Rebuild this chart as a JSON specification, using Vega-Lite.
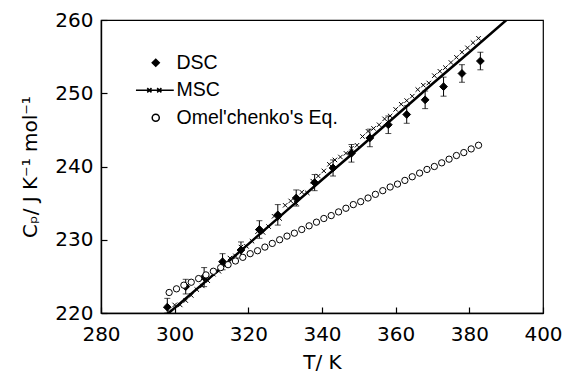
{
  "$schema": "https://vega.github.io/schema/vega-lite/v6.json",
  "width": 442,
  "height": 293,
  "autosize": "none",
  "padding": {"left": 101, "top": 20, "right": 22, "bottom": 59},
  "background": "white",
  "config": {
    "view": {"stroke": "black", "strokeWidth": 1.2},
    "legend": {
      "title": null,
      "orient": "none",
      "legendX": 45,
      "legendY": 33,
      "symbolSize": 50,
      "symbolStrokeColor": "black",
      "labelFont": "Liberation Sans",
      "labelFontSize": 19.5,
      "labelColor": "black",
      "labelLimit": 300,
      "labelOffset": 11,
      "rowPadding": 6.5
    },
    "axis": {
      "grid": false,
      "ticks": true,
      "zindex": 1,
      "domainColor": "black",
      "domainWidth": 1.4,
      "tickColor": "black",
      "tickWidth": 1.2,
      "labelFont": "DejaVu Sans",
      "labelFontSize": 20,
      "labelColor": "black",
      "titleFont": "DejaVu Sans",
      "titleFontSize": 20,
      "titleFontWeight": "normal",
      "titleColor": "black",
      "labelFlush": false,
      "labelOverlap": false
    }
  },
  "datasets": {
    "dsc": [
      {"T": 298, "C": 220.8, "lo": 220.0, "hi": 222.0, "series": "DSC"},
      {"T": 303, "C": 223.6, "lo": 222.6, "hi": 224.6, "series": "DSC"},
      {"T": 308, "C": 224.9, "lo": 223.6, "hi": 226.2, "series": "DSC"},
      {"T": 313, "C": 227.0, "lo": 225.9, "hi": 228.1, "series": "DSC"},
      {"T": 318, "C": 228.6, "lo": 227.5, "hi": 229.7, "series": "DSC"},
      {"T": 323, "C": 231.4, "lo": 230.2, "hi": 232.6, "series": "DSC"},
      {"T": 328, "C": 233.4, "lo": 232.0, "hi": 234.8, "series": "DSC"},
      {"T": 333, "C": 235.7, "lo": 234.6, "hi": 236.8, "series": "DSC"},
      {"T": 338, "C": 237.8, "lo": 236.7, "hi": 238.9, "series": "DSC"},
      {"T": 343, "C": 239.8, "lo": 238.7, "hi": 240.9, "series": "DSC"},
      {"T": 348, "C": 241.8, "lo": 240.6, "hi": 243.0, "series": "DSC"},
      {"T": 353, "C": 243.9, "lo": 242.7, "hi": 245.1, "series": "DSC"},
      {"T": 358, "C": 245.7, "lo": 244.5, "hi": 246.9, "series": "DSC"},
      {"T": 363, "C": 247.1, "lo": 245.9, "hi": 248.3, "series": "DSC"},
      {"T": 368, "C": 249.1, "lo": 247.9, "hi": 250.3, "series": "DSC"},
      {"T": 373, "C": 250.9, "lo": 249.6, "hi": 252.2, "series": "DSC"},
      {"T": 378, "C": 252.7, "lo": 251.5, "hi": 253.9, "series": "DSC"},
      {"T": 383, "C": 254.4, "lo": 253.2, "hi": 255.6, "series": "DSC"}
    ],
    "msc": [
      {"T": 298.5, "C": 220.2}, {"T": 300, "C": 221.1}, {"T": 301.5, "C": 221.1},
      {"T": 303, "C": 221.7}, {"T": 304.5, "C": 222.4}, {"T": 306, "C": 223.2},
      {"T": 307.5, "C": 223.7}, {"T": 309, "C": 224.4}, {"T": 310.5, "C": 225.3},
      {"T": 312, "C": 225.7}, {"T": 313.5, "C": 226.5}, {"T": 315, "C": 227.5},
      {"T": 316.5, "C": 227.8}, {"T": 318, "C": 229.0}, {"T": 319.5, "C": 229.1},
      {"T": 321, "C": 229.8}, {"T": 322.5, "C": 231.1}, {"T": 324, "C": 231.0},
      {"T": 325.5, "C": 231.8}, {"T": 327, "C": 233.2}, {"T": 328.5, "C": 232.9},
      {"T": 330, "C": 234.7}, {"T": 331.5, "C": 235.3}, {"T": 333, "C": 235.0},
      {"T": 334.5, "C": 236.5}, {"T": 336, "C": 236.4}, {"T": 337.5, "C": 238.0},
      {"T": 339, "C": 238.7}, {"T": 340.5, "C": 239.4}, {"T": 342, "C": 240.3},
      {"T": 343.5, "C": 240.9}, {"T": 345, "C": 241.3}, {"T": 346.5, "C": 241.8},
      {"T": 348, "C": 242.5}, {"T": 349.5, "C": 242.9}, {"T": 351, "C": 244.1},
      {"T": 352.5, "C": 244.8}, {"T": 354, "C": 245.2}, {"T": 355.5, "C": 245.7},
      {"T": 357, "C": 246.5}, {"T": 358.5, "C": 246.9}, {"T": 360, "C": 247.8},
      {"T": 361.5, "C": 248.5}, {"T": 363, "C": 249.0}, {"T": 364.5, "C": 249.6},
      {"T": 366, "C": 250.5}, {"T": 367.5, "C": 251.1}, {"T": 369, "C": 251.4},
      {"T": 370.5, "C": 252.4}, {"T": 372, "C": 253.0}, {"T": 373.5, "C": 253.5},
      {"T": 375, "C": 254.2}, {"T": 376.5, "C": 254.9}, {"T": 378, "C": 255.6},
      {"T": 379.5, "C": 256.2}, {"T": 381, "C": 256.9}, {"T": 382.5, "C": 257.5}
    ],
    "mscfit": [
      {"T": 297, "C": 219.4}, {"T": 310, "C": 225.0}, {"T": 320, "C": 229.4},
      {"T": 330, "C": 233.8}, {"T": 340, "C": 238.2}, {"T": 350, "C": 242.5},
      {"T": 360, "C": 246.9}, {"T": 370, "C": 251.3}, {"T": 380, "C": 255.6},
      {"T": 391, "C": 260.4}
    ],
    "omel": [
      {"T": 298.5, "C": 222.8, "series": "Omel'chenko's Eq."},
      {"T": 300.5, "C": 223.3, "series": "Omel'chenko's Eq."},
      {"T": 302.5, "C": 223.8, "series": "Omel'chenko's Eq."},
      {"T": 304.5, "C": 224.2, "series": "Omel'chenko's Eq."},
      {"T": 306.5, "C": 224.7, "series": "Omel'chenko's Eq."},
      {"T": 308.5, "C": 225.2, "series": "Omel'chenko's Eq."},
      {"T": 310.5, "C": 225.7, "series": "Omel'chenko's Eq."},
      {"T": 312.5, "C": 226.2, "series": "Omel'chenko's Eq."},
      {"T": 314.5, "C": 226.6, "series": "Omel'chenko's Eq."},
      {"T": 316.5, "C": 227.1, "series": "Omel'chenko's Eq."},
      {"T": 318.5, "C": 227.6, "series": "Omel'chenko's Eq."},
      {"T": 320.5, "C": 228.1, "series": "Omel'chenko's Eq."},
      {"T": 322.5, "C": 228.5, "series": "Omel'chenko's Eq."},
      {"T": 324.5, "C": 229.0, "series": "Omel'chenko's Eq."},
      {"T": 326.5, "C": 229.5, "series": "Omel'chenko's Eq."},
      {"T": 328.5, "C": 230.0, "series": "Omel'chenko's Eq."},
      {"T": 330.5, "C": 230.5, "series": "Omel'chenko's Eq."},
      {"T": 332.5, "C": 230.9, "series": "Omel'chenko's Eq."},
      {"T": 334.5, "C": 231.4, "series": "Omel'chenko's Eq."},
      {"T": 336.5, "C": 231.9, "series": "Omel'chenko's Eq."},
      {"T": 338.5, "C": 232.4, "series": "Omel'chenko's Eq."},
      {"T": 340.5, "C": 232.9, "series": "Omel'chenko's Eq."},
      {"T": 342.5, "C": 233.3, "series": "Omel'chenko's Eq."},
      {"T": 344.5, "C": 233.8, "series": "Omel'chenko's Eq."},
      {"T": 346.5, "C": 234.3, "series": "Omel'chenko's Eq."},
      {"T": 348.5, "C": 234.8, "series": "Omel'chenko's Eq."},
      {"T": 350.5, "C": 235.2, "series": "Omel'chenko's Eq."},
      {"T": 352.5, "C": 235.7, "series": "Omel'chenko's Eq."},
      {"T": 354.5, "C": 236.2, "series": "Omel'chenko's Eq."},
      {"T": 356.5, "C": 236.7, "series": "Omel'chenko's Eq."},
      {"T": 358.5, "C": 237.2, "series": "Omel'chenko's Eq."},
      {"T": 360.5, "C": 237.6, "series": "Omel'chenko's Eq."},
      {"T": 362.5, "C": 238.1, "series": "Omel'chenko's Eq."},
      {"T": 364.5, "C": 238.6, "series": "Omel'chenko's Eq."},
      {"T": 366.5, "C": 239.1, "series": "Omel'chenko's Eq."},
      {"T": 368.5, "C": 239.6, "series": "Omel'chenko's Eq."},
      {"T": 370.5, "C": 240.0, "series": "Omel'chenko's Eq."},
      {"T": 372.5, "C": 240.5, "series": "Omel'chenko's Eq."},
      {"T": 374.5, "C": 241.0, "series": "Omel'chenko's Eq."},
      {"T": 376.5, "C": 241.5, "series": "Omel'chenko's Eq."},
      {"T": 378.5, "C": 241.9, "series": "Omel'chenko's Eq."},
      {"T": 380.5, "C": 242.4, "series": "Omel'chenko's Eq."},
      {"T": 382.5, "C": 242.9, "series": "Omel'chenko's Eq."}
    ]
  },
  "layer": [
    {
      "data": {"name": "dsc"},
      "mark": {"type": "errorbar", "ticks": {"size": 6}, "color": "black"},
      "encoding": {
        "x": {
          "field": "T", "type": "quantitative",
          "scale": {"domain": [280, 400], "nice": false, "zero": false},
          "axis": {
            "title": "T/  K",
            "values": [280, 290, 300, 310, 320, 330, 340, 350, 360, 370, 380, 390, 400],
            "labelExpr": "datum.value % 20 === 0 ? datum.label : ''",
            "tickSize": -6,
            "labelPadding": 17,
            "titlePadding": 8
          }
        },
        "y": {
          "field": "lo", "type": "quantitative",
          "scale": {"domain": [220, 260], "nice": false, "zero": false},
          "axis": {
            "title": "Cₚ/  J K⁻¹ mol⁻¹",
            "values": [220, 225, 230, 235, 240, 245, 250, 255, 260],
            "labelExpr": "datum.value % 10 === 0 ? datum.label : ''",
            "tickSize": -6,
            "labelPadding": 14,
            "titlePadding": 14
          }
        },
        "y2": {"field": "hi"}
      }
    },
    {
      "data": {"name": "mscfit"},
      "mark": {"type": "line", "color": "black", "strokeWidth": 2.5, "clip": true},
      "encoding": {
        "x": {"field": "T", "type": "quantitative"},
        "y": {"field": "C", "type": "quantitative"}
      }
    },
    {
      "data": {"name": "msc"},
      "mark": {"type": "point", "shape": "M-1,-1L1,1M-1,1L1,-1", "filled": false, "color": "black", "size": 20, "strokeWidth": 1, "opacity": 1, "clip": true},
      "encoding": {
        "x": {"field": "T", "type": "quantitative"},
        "y": {"field": "C", "type": "quantitative"}
      }
    },
    {
      "data": {"name": "dsc"},
      "mark": {"type": "point", "filled": true, "size": 60, "strokeWidth": 1, "opacity": 1},
      "encoding": {
        "x": {"field": "T", "type": "quantitative"},
        "y": {"field": "C", "type": "quantitative"},
        "shape": {
          "field": "series", "type": "nominal",
          "scale": {
            "domain": ["DSC", "MSC", "Omel'chenko's Eq."],
            "range": ["diamond", "M-5.6,0H5.1M-2.4,-0.6L-1.2,0.6M-2.4,0.6L-1.2,-0.6M0.4,-0.6L1.6,0.6M0.4,0.6L1.6,-0.6", "circle"]
          }
        },
        "fill": {
          "field": "series", "type": "nominal",
          "scale": {
            "domain": ["DSC", "MSC", "Omel'chenko's Eq."],
            "range": ["black", "transparent", "white"]
          }
        },
        "stroke": {
          "field": "series", "type": "nominal",
          "scale": {
            "domain": ["DSC", "MSC", "Omel'chenko's Eq."],
            "range": ["black", "black", "black"]
          }
        }
      }
    },
    {
      "data": {"name": "omel"},
      "mark": {"type": "point", "filled": true, "size": 40, "strokeWidth": 1, "opacity": 1},
      "encoding": {
        "x": {"field": "T", "type": "quantitative"},
        "y": {"field": "C", "type": "quantitative"},
        "shape": {"field": "series", "type": "nominal"},
        "fill": {"field": "series", "type": "nominal"},
        "stroke": {"field": "series", "type": "nominal"}
      }
    }
  ]
}
